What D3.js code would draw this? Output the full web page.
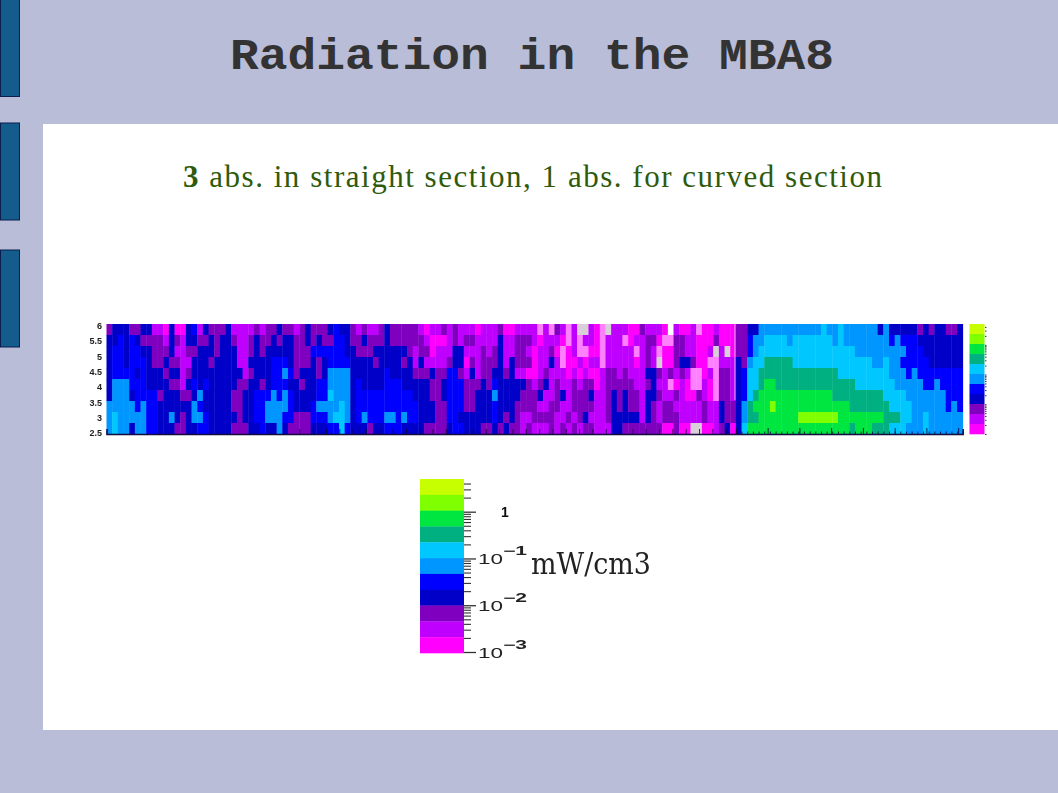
<!DOCTYPE html>
<html>
<head>
<meta charset="utf-8">
<script src="https://cdn.jsdelivr.net/npm/d3@7/dist/d3.min.js"></script>
<style>html,body{margin:0;padding:0;background:#b9bdd8;overflow:hidden}</style>
</head>
<body>
<div id="chart"></div>
<script>
const titleText = "Radiation in the MBA8";
const subtitleBold = "3";
const subtitleRest = " abs. in straight section, 1 abs. for curved section";
const unitText = "mW/cm3";

// Colour levels, lowest (out of scale) to highest
const levelCodes  = ["w","q","p","m","v","d","b","B","a","c","t","g","l","y"];
const levelColors = ["#ffffff","#d8cfd8","#ff80ff","#ff00ff","#bf00ff","#8000c0","#0000c8","#0000ff","#0096ff","#00c8ff","#00b080","#00e640","#80ff00","#c8ff00"];
const legendCodes = ["y","l","g","t","c","a","B","b","d","v","m"];

// Grid cells, top row first (6 down to 2.5), one level code per cell
const sectionA = ["dbbbddbbvvmbmmbBvbdddb","bbBbBbddddvbdvbbddbdbb","bBBbBBbbdddbvvddbbbdbb","bBBbBBBbddbddvvbbbdbbb","bBBBBbBbbbdbbvdbbbbbbb","baaaBBBbbbbddvbBbBbbbb","baaabBBBBdbbbddbabbbbb","aaaaaBaBBbbbbbbaBbbbbb","acaaaaaBBbbabdbaaBbbbb","acaabaaBBbbbddbbBBbbbb"];
const sectionB = ["vvvvdvddbddvdbdddbBbbd","dvvdbddbdbbddbdbddBBbd","bvvdbdbbbbbdddBBBBBBbb","bvvbbbbBBBbdddbdbBBBBb","bbvdbbbBBaBdbbbdbaaaab","bddbbdbBBBbbdbbBBaaaab","ddbbBBBaBaBbbbbBBcaaab","ddbbBBaaaaBbbbBaaaacab","bdbbBBaaaBBdddBBBaccab","dddbbBbbabddddbbbBBcBb"];
const sectionC = ["vdvvdbdddddvmvvdvdvvvm","dbdddbddddddvmmmvdvddv","dddbbbbbbdvddmvvvbbvvv","bbbdbbbbdbvbvvvvdbbmdv","bbbbbBbbbbdddbddBBdvbv","BbbbbBBBbbbbbddbBBBddd","BBBBBBBBBBbbbddbBBBddb","BBBBBBBBBBBbbbddBBBddb","BaBBBaaBaBBbbbddBBbbbb","bbdbbBBBbbbbddddbBBbbb"];
const sectionD = ["vvvdmmvvvvpvpdvpvqqvmp","vvvbvvdddvmvvvmpvpvvmp","dvdbvvddvmvvdmpmvppmmp","dddbvbdddmvvbvpmmvmvvp","ddbbdbvvmmvdvvvmvmvmmv","bdBbbbbbdvdbvdvvdvddmv","bbabbbbdddbvvdbvdddbvv","bbBbbbddddvvddvvddddvv","bbBbdbdvvddddvvdvdbvvv","ddbdbddvdvvvdvdvdvddvv"];
const sectionE = ["qvvvmmdvvvmwvmmvpmmvmmm","vvvpmvvddmppddvvmmmdmmm","vvvvvpvdvpmmddvvmmvqvqm","vvvvvmvdvqmmdbbdmmppvvv","ddvdvvvbbdvdvdvppmvpddv","dddddvvdbvvpmvmppvmpddv","dbdbddvbbdvvdvmmdvmpddv","dbdbddvbdvddvvvvvdvvbdd","dbbbbbvbdvdddvvvvdvvbdd","vbbdddddddmmdmmqqmmvdbm"];
const sectionF = [
 "ddbb aaaaaaaaaaa c aa c aaaaaa b a bbbbb d b d bb dd b",
 "dd B aa cccc a ccccccc a c aaaaaaaa B a BBBbbbbbbbb",
 "dd B a ccccccccccccccccc aaaaaaaaa BBBbbbbbbb",
 "b d a cc ttttt cccccccccccccc aa c aa BBBBBbbbbbb",
 "b B cc tttttttttttttt ccccccccc aaa B a BBBBBBBB",
 "b B cc t gg tttttttttttttt ccccccc aaaaa BB a BBBB",
 "b B c t ggggggggggggg ttttttttt cccc aaaaaaa BBB",
 "b a t ggg l ggggggggggggg ttttttt cccc aaaaaa B a B",
 "b a tt ggggggg lllllll gggggggg ttt cc aa c aaaaaa",
 "b c gggggggggggggggggg t ggg ttt ccc aaa c aaaaaa"
];
const sections = [sectionA, sectionB, sectionC, sectionD, sectionE, sectionF];

const yTickValues = [6, 5.5, 5, 4.5, 4, 3.5, 3, 2.5];
const legendMajor = [1e-3, 1e-2, 1e-1, 1];
const legendMinor = [2e-3,3e-3,4e-3,5e-3,6e-3,7e-3,8e-3,9e-3,2e-2,3e-2,4e-2,5e-2,6e-2,7e-2,8e-2,9e-2,2e-1,3e-1,4e-1,5e-1,6e-1,7e-1,8e-1,9e-1,2,3,4];
const legendLabels = [["10","−3"],["10","−2"],["10","−1"],["1",""]];
const tabStarts = [0, 123.5, 250.5];

const W = 1058, H = 793;
const svg = d3.select("#chart").append("svg").attr("width", W).attr("height", H).style("display","block");
const defs = svg.append("defs");
defs.append("filter").attr("id","soft").attr("x","-2%").attr("y","-5%").attr("width","104%").attr("height","110%")
  .append("feGaussianBlur").attr("stdDeviation",0.7);
defs.append("filter").attr("id","softer").attr("x","-5%").attr("y","-5%").attr("width","110%").attr("height","110%")
  .append("feGaussianBlur").attr("stdDeviation",0.45);
defs.append("clipPath").attr("id","yclip").append("rect").attr("x",80).attr("y",322).attr("width",30).attr("height",114);

// Slide frame
svg.append("rect").attr("width",W).attr("height",H).attr("fill","#b9bdd8");
svg.append("rect").attr("x",43).attr("y",124).attr("width",W-43).attr("height",606).attr("fill","#ffffff");
svg.selectAll("rect.tab").data(tabStarts).join("rect").attr("class","tab")
  .attr("x",0.5).attr("y",d=>d-0.5).attr("width",19).attr("height",97)
  .attr("fill","#135c8c").attr("stroke","#0b1c4e").attr("stroke-width",1);

svg.append("text").attr("x",230).attr("y",69)
  .attr("font-family","'Liberation Mono',monospace").attr("font-weight","bold").attr("font-size",44)
  .attr("fill","#333333").attr("textLength",604).attr("lengthAdjust","spacingAndGlyphs").text(titleText);

const sub = svg.append("text").attr("x",183).attr("y",187)
  .attr("font-family","'Liberation Serif',serif").attr("font-size",31).attr("fill","#2f5a0c")
  .attr("textLength",699).attr("lengthAdjust","spacing");
sub.append("tspan").attr("font-weight","bold").text(subtitleBold);
sub.append("tspan").text(subtitleRest);

// Heat map
const cleanSections = sections.map(s => s.map(r => r.replace(/ /g,"")));
const nCols = d3.sum(cleanSections, s => s[0].length);
const nRows = sectionA.length;
const xBand = d3.scaleBand().domain(d3.range(nCols)).range([106.5, 962.7]);
const rowBand = d3.scaleBand().domain(d3.range(nRows)).range([324, 434]);
const color = d3.scaleOrdinal(levelCodes, levelColors);
const cells = [];
let offset = 0;
cleanSections.forEach(s => {
  s.forEach((row, r) => { for (let c = 0; c < row.length; c++) cells.push({r, c: offset + c, k: row[c]}); });
  offset += s[0].length;
});
const heat = svg.append("g").attr("filter","url(#soft)");
heat.selectAll("rect").data(cells).join("rect")
  .attr("x",d=>xBand(d.c)).attr("y",d=>rowBand(d.r))
  .attr("width",xBand.bandwidth()+0.4).attr("height",rowBand.bandwidth()+0.4)
  .attr("fill",d=>color(d.k));

// Axes of the heat map
const yScale = d3.scaleLinear().domain([2.5,6]).range([433,325.5]);
const xScale = d3.scaleLinear().domain([0,nCols]).range([106.5,962.7]);
const axes = svg.append("g").attr("filter","url(#softer)");
const yAxisHolder = axes.append("g").attr("clip-path","url(#yclip)");
const yAxis = yAxisHolder.append("g").attr("transform","translate(106,0)")
  .call(d3.axisLeft(yScale).tickValues(yTickValues).tickSize(0).tickFormat(d3.format("")));
yAxis.select(".domain").remove();
yAxis.selectAll("text").attr("font-family","'Liberation Sans',sans-serif").attr("font-size",9).attr("font-weight","bold").attr("fill","#222").attr("dx",-1);

const leftTicks = d3.range(34,111,2.35);
const rightMinor = d3.range(111,nCols+1,1);
const rightMajor = d3.range(111,nCols+1,5.6);
const baseAxis = axes.append("g").attr("transform","translate(0,434)")
  .call(d3.axisTop(xScale).tickValues(leftTicks).tickSize(5).tickFormat(""));
baseAxis.select(".domain").attr("stroke","#14083c").attr("stroke-width",1.5);
baseAxis.selectAll("line").attr("stroke","#14083c").attr("stroke-opacity",0.8);
const rMinorAxis = axes.append("g").attr("transform","translate(0,434)")
  .call(d3.axisTop(xScale).tickValues(rightMinor).tickSize(2.5).tickFormat(""));
rMinorAxis.select(".domain").remove();
rMinorAxis.selectAll("line").attr("stroke","#14083c").attr("stroke-opacity",0.8);
const rMajorAxis = axes.append("g").attr("transform","translate(0,434)")
  .call(d3.axisTop(xScale).tickValues(rightMajor).tickSize(6).tickFormat(""));
rMajorAxis.select(".domain").remove();
rMajorAxis.selectAll("line").attr("stroke","#14083c").attr("stroke-opacity",0.85);

// Section boundary
axes.append("line").attr("x1",xScale(111)-1).attr("x2",xScale(111)-1).attr("y1",324).attr("y2",400)
  .attr("stroke","#f4d8f8").attr("stroke-width",1).attr("stroke-opacity",0.7);

// Small colour strip next to the heat map
const stripBand = d3.scaleBand().domain(legendCodes).range([324,434]);
const strip = svg.append("g").attr("filter","url(#softer)");
strip.selectAll("rect").data(legendCodes).join("rect")
  .attr("x",969.5).attr("y",d=>stripBand(d)).attr("width",15).attr("height",stripBand.bandwidth()+0.3).attr("fill",d=>color(d));
const stripScale = d3.scaleLog().domain([1e-3,5]).range([434,324]);
const stripAxis = strip.append("g").attr("transform","translate(985,0)")
  .call(d3.axisRight(stripScale).tickValues(legendMajor.concat(legendMinor)).tickSize(1.5).tickFormat(""));
stripAxis.select(".domain").remove();
stripAxis.selectAll("line").attr("stroke","#333");

// Large colour legend
const legendBand = d3.scaleBand().domain(legendCodes).range([479,653]);
const legend = svg.append("g").attr("filter","url(#softer)");
legend.selectAll("rect").data(legendCodes).join("rect")
  .attr("x",420).attr("y",d=>legendBand(d)).attr("width",44).attr("height",legendBand.bandwidth()+0.3).attr("fill",d=>color(d));
const legendScale = d3.scaleLog().domain([1e-3,5]).range([652,479]);
const lgMinor = legend.append("g").attr("transform","translate(464,0)")
  .call(d3.axisRight(legendScale).tickValues(legendMinor).tickSize(7).tickFormat(""));
lgMinor.select(".domain").remove();
lgMinor.selectAll("line").attr("stroke","#333").attr("stroke-width",1.1);
const lgMajor = legend.append("g").attr("transform","translate(464,0)")
  .call(d3.axisRight(legendScale).tickValues(legendMajor).tickSize(12).tickFormat(""));
lgMajor.select(".domain").remove();
lgMajor.selectAll("line").attr("stroke","#333").attr("stroke-width",1.3);

legendMajor.forEach((v,i)=>{
  const y = legendScale(v), [base,sup] = legendLabels[i];
  if (sup) {
    legend.append("text").attr("x",478).attr("y",y+6).attr("font-family","'Liberation Sans',sans-serif")
      .attr("font-size",15).attr("fill","#222").attr("textLength",25).attr("lengthAdjust","spacingAndGlyphs").text(base);
    legend.append("text").attr("x",503).attr("y",y-3).attr("font-family","'Liberation Sans',sans-serif").attr("font-weight","bold")
      .attr("font-size",12).attr("fill","#222").attr("textLength",24).attr("lengthAdjust","spacingAndGlyphs").text(sup);
  } else {
    legend.append("text").attr("x",505).attr("y",y+5).attr("text-anchor","middle").attr("font-family","'Liberation Sans',sans-serif").attr("font-weight","bold")
      .attr("font-size",14).attr("fill","#111").text(base);
  }
});

svg.append("text").attr("x",531).attr("y",574).attr("font-family","'DejaVu Serif',serif").attr("font-size",29)
  .attr("fill","#222").attr("textLength",120).attr("lengthAdjust","spacingAndGlyphs").attr("filter","url(#softer)").text(unitText);
</script>
</body>
</html>
